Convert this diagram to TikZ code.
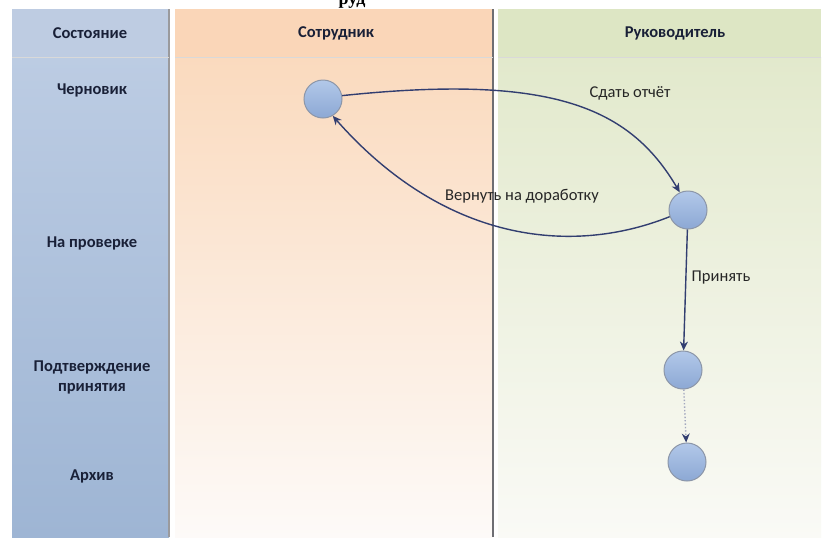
\documentclass[tikz,border=0pt]{standalone}
\usepackage{fontspec}
\setmainfont{Carlito}
\newfontfamily\captionfont{Liberation Serif}
\usetikzlibrary{arrows.meta}

\definecolor{stateHead}{RGB}{190,204,226}
\definecolor{stateTop}{RGB}{188,204,227}
\definecolor{stateBot}{RGB}{158,181,212}
\definecolor{empHead}{RGB}{250,214,184}
\definecolor{empTop}{RGB}{250,218,190}
\definecolor{empBot}{RGB}{253,250,248}
\definecolor{bossHead}{RGB}{221,230,196}
\definecolor{bossTop}{RGB}{226,233,204}
\definecolor{bossBot}{RGB}{250,250,246}
\definecolor{laneLine}{RGB}{110,110,115}
\definecolor{flowBlue}{RGB}{50,62,112}
\definecolor{ballTop}{RGB}{178,200,233}
\definecolor{ballBot}{RGB}{140,168,212}
\definecolor{ballRim}{RGB}{140,150,168}
\definecolor{inkDark}{RGB}{25,32,55}

\tikzset{
  state/.style={circle, draw=ballRim, line width=1pt, minimum size=38pt,
    inner sep=0pt, top color=ballTop, bottom color=ballBot},
  flow/.style={draw=flowBlue, line width=1.4pt,
    -{Stealth[length=9pt,width=8pt,color=flowBlue]}},
  head/.style={font=\bfseries\fontsize{16.5}{19}\selectfont, text=inkDark},
  phase/.style={font=\bfseries\fontsize{16.5}{20}\selectfont, text=inkDark,
    align=center},
  action/.style={font=\fontsize{16.5}{19}\selectfont, text=black!85}
}

\begin{document}
\begin{tikzpicture}[x=1pt,y=-1pt]
  \useasboundingbox (0,0) rectangle (823,539);
  \fill[white] (0,0) rectangle (823,539);

  % Колонка состояний
  \shade[top color=stateTop, bottom color=stateBot] (12,57) rectangle (169,537);
  \fill[stateHead] (12,9) rectangle (169,57);
  \draw[laneLine!70, line width=1.5pt] (169,9) -- (169,537);

  % Дорожка сотрудника
  \shade[top color=empTop, bottom color=empBot] (175,57) rectangle (493,537);
  \fill[empHead] (175,9) rectangle (493,57);
  \draw[laneLine, line width=1.5pt] (493,9) -- (493,537);

  % Дорожка руководителя
  \shade[top color=bossTop, bottom color=bossBot] (498,57) rectangle (821,537);
  \fill[bossHead] (498,9) rectangle (821,57);

  % Линия под заголовками
  \draw[black!15, line width=0.8pt] (12,57) -- (169,57) (175,57) -- (493,57) (498,57) -- (821,57);

  % Обрезанный заголовок сверху
  \node[font=\captionfont\bfseries\fontsize{18}{20}\selectfont, anchor=base,
    inner sep=0pt] (caption) at (352,4) {руд};

  % Заголовки колонок
  \node[head] (hstate) at (90,33) {Состояние};
  \node[head] (hemp) at (336,33) {Сотрудник};
  \node[head] (hboss) at (675,33) {Руководитель};

  % Названия состояний
  \foreach \name/\y/\txt in {pdraft/90/Черновик, preview/243/На проверке,
      pconfirm/377/Подтверждение\\принятия, parchive/476/Архив}
    \node[phase] (\name) at (92,\y) {\txt};

  % Состояния документа
  \node[state] (draft) at (323,99) {};
  \node[state] (review) at (688,210) {};
  \node[state] (confirm) at (683,370) {};
  \node[state] (archive) at (687,462) {};

  % Переходы
  \draw[flow] (draft.10) .. controls +(210,-22) and +(-50,-85) .. (review.115);
  \draw[flow] (review.200) .. controls +(-100,40) and +(110,125) .. (draft.-60);
  \draw[flow] (review) -- (confirm);
  \draw[flow, draw=flowBlue!45, dotted] (confirm) -- (archive);

  % Подписи переходов
  \node[action] (lsubmit) at (630,93) {Сдать отчёт};
  \node[action] (lreturn) at (522,196) {Вернуть на доработку};
  \node[action] (laccept) at (721,278) {Принять};
\end{tikzpicture}
\end{document}
